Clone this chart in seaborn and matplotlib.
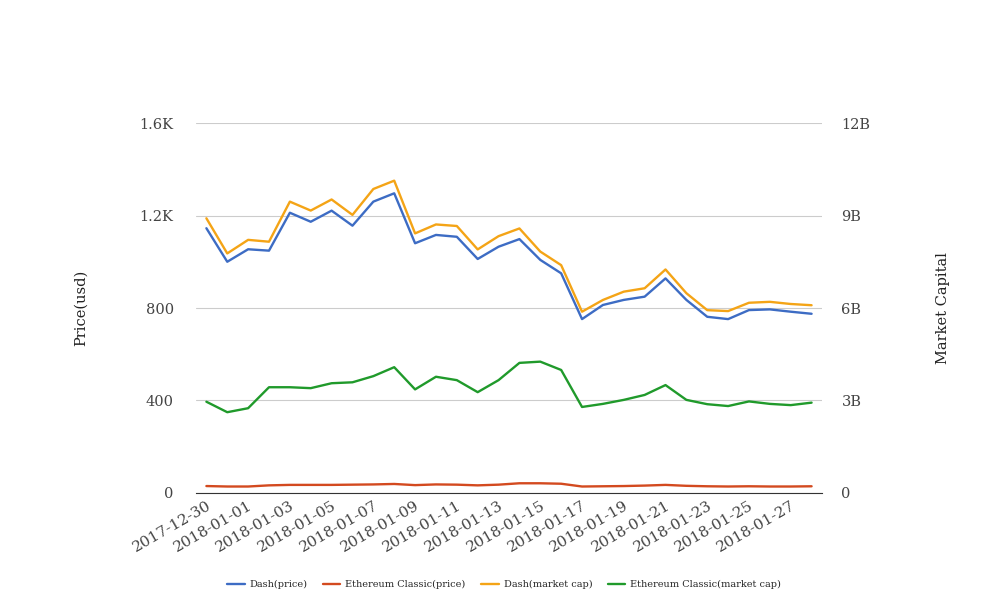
import pandas as pd
import seaborn as sns
import matplotlib.pyplot as plt
from matplotlib.ticker import FuncFormatter

# Dados
datas = pd.date_range("2017-12-30", "2018-01-28").strftime("%Y-%m-%d").tolist()

dash_preco = [1145, 1000, 1054, 1048, 1212, 1173, 1221, 1156, 1260, 1296,
              1080, 1116, 1108, 1012, 1065, 1098, 1008, 950, 752, 813,
              835, 849, 928, 835, 762, 752, 791, 794, 784, 775]
etc_preco = [30, 28, 28, 33, 35, 35, 35, 36, 37, 39,
             34, 37, 36, 33, 36, 42, 42, 40, 28, 29,
             30, 32, 35, 31, 29, 28, 29, 28, 28, 29]
dash_cap = [8.91, 7.77, 8.21, 8.15, 9.45, 9.16, 9.52, 9.02, 9.86, 10.13,
            8.42, 8.71, 8.66, 7.90, 8.33, 8.58, 7.83, 7.39, 5.88, 6.26,
            6.53, 6.64, 7.25, 6.48, 5.93, 5.90, 6.17, 6.20, 6.13, 6.09]
etc_cap = [2.96, 2.62, 2.75, 3.43, 3.43, 3.40, 3.56, 3.59, 3.79, 4.08,
           3.36, 3.77, 3.66, 3.27, 3.66, 4.22, 4.26, 3.99, 2.79, 2.89,
           3.02, 3.18, 3.50, 3.02, 2.88, 2.82, 2.97, 2.89, 2.85, 2.93]

cores = {"Dash(price)": "#3d6cc4", "Ethereum Classic(price)": "#d34a1f",
         "Dash(market cap)": "#f4a416", "Ethereum Classic(market cap)": "#209a2b"}

sns.set_style("white")
plt.rcParams["font.family"] = ["DejaVu Serif"]

df = pd.DataFrame({"data": datas, "Dash(price)": dash_preco,
                   "Ethereum Classic(price)": etc_preco,
                   "Dash(market cap)": [v * 1e9 for v in dash_cap],
                   "Ethereum Classic(market cap)": [v * 1e9 for v in etc_cap]})

fig = plt.figure(figsize=(10.08, 6.16), dpi=100)
ax = fig.add_axes([0.1944, 0.1997, 0.6211, 0.6006])
ax2 = ax.twinx()

for nome in ["Dash(price)", "Ethereum Classic(price)"]:
    sns.lineplot(data=df, x="data", y=nome, ax=ax, color=cores[nome], lw=1.7, label=nome, legend=False)
for nome in ["Dash(market cap)", "Ethereum Classic(market cap)"]:
    sns.lineplot(data=df, x="data", y=nome, ax=ax2, color=cores[nome], lw=1.7, label=nome, legend=False)

ax.set_xlim(-0.5, len(datas) - 0.5)
ax.set_ylim(0, 1600)
ax2.set_ylim(0, 12e9)
ax.set_yticks([0, 400, 800, 1200, 1600])
ax2.set_yticks([0, 3e9, 6e9, 9e9, 12e9])
ax.yaxis.set_major_formatter(FuncFormatter(lambda v, p: f"{v/1000:g}K" if v >= 1000 else f"{v:g}"))
ax2.yaxis.set_major_formatter(FuncFormatter(lambda v, p: f"{v/1e9:g}B" if v > 0 else "0"))

ax.set_xticks(range(0, len(datas), 2))
ax.set_xticklabels(datas[::2], rotation=30, ha="right", rotation_mode="anchor", fontsize=11, color="#333333")
ax.grid(axis="y", color="#cccccc", lw=0.8)
ax.set_axisbelow(True)
for a in (ax, ax2):
    for s in ["top", "left", "right"]:
        a.spines[s].set_visible(False)
    a.tick_params(length=0, labelsize=10.5, labelcolor="#444444")
ax.spines["bottom"].set_visible(True)
ax.spines["bottom"].set_color("#333333")
ax2.spines["bottom"].set_visible(False)
ax.tick_params(axis="y", pad=16)
ax2.tick_params(axis="y", pad=14)
ax.tick_params(axis="x", pad=4, labelsize=11)

ax.set_xlabel("")
ax.set_ylabel("Price(usd)", fontsize=10.5, color="#222222", labelpad=37)
ax2.set_ylabel("Market Capital", fontsize=10.5, color="#222222", labelpad=47)

h1, l1 = ax.get_legend_handles_labels()
h2, l2 = ax2.get_legend_handles_labels()
fig.legend(h1 + h2, l1 + l2, loc="center", bbox_to_anchor=(0.5, 0.051), ncol=4, frameon=False,
           fontsize=7, handlelength=1.8, handletextpad=0.5, columnspacing=1.6)

plt.savefig("out.png", dpi=100)
plt.close()
